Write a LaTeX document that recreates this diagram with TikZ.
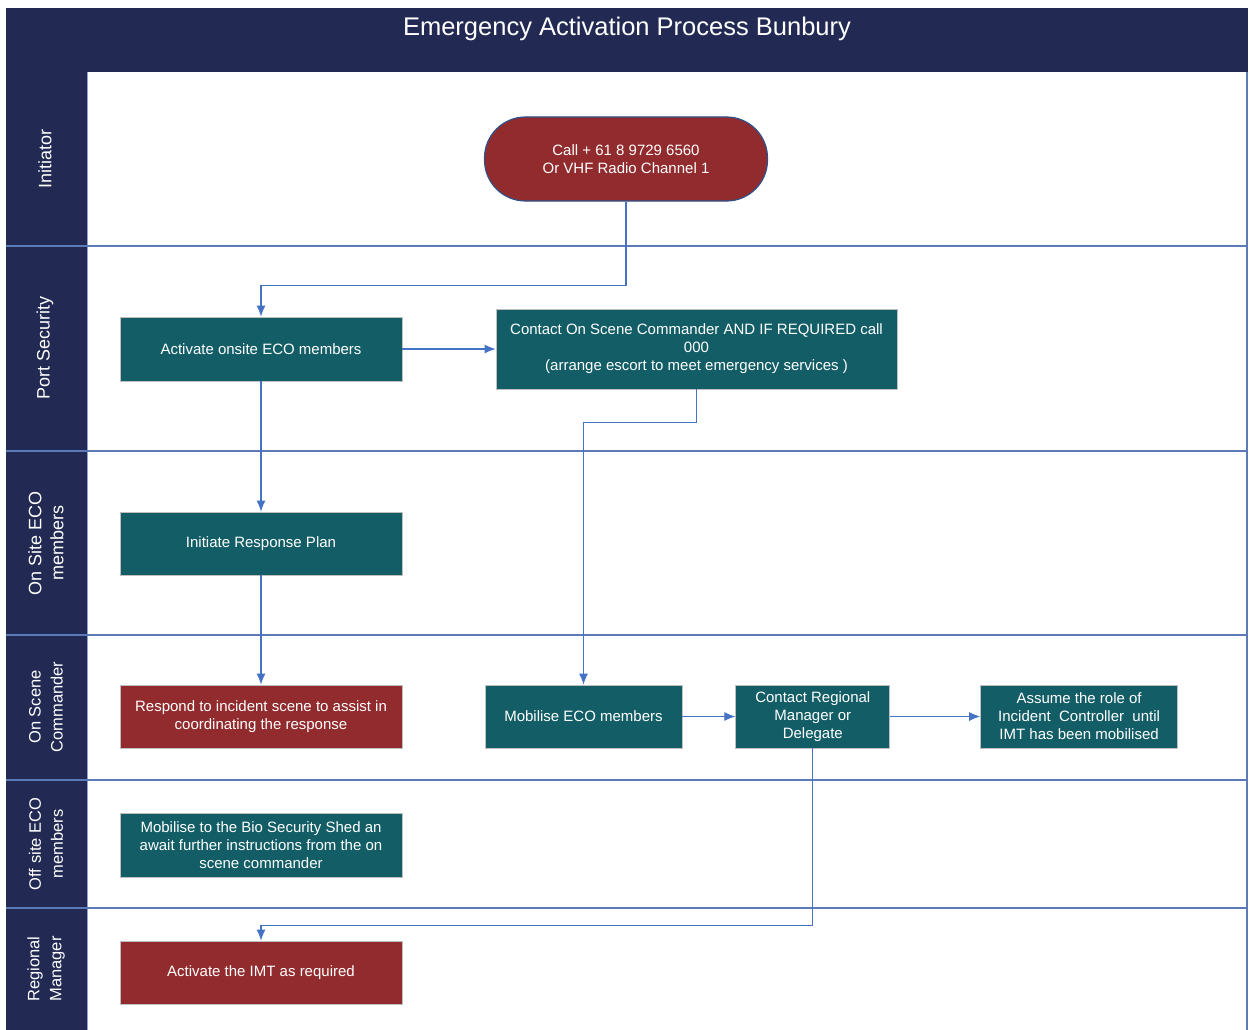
\documentclass[tikz,border=0pt]{standalone}
\usepackage{fontspec}
\setmainfont{Liberation Sans}
\usepackage{xcolor}
\usetikzlibrary{positioning,arrows.meta}

\definecolor{navy}{HTML}{222A53}
\definecolor{boxteal}{HTML}{135E66}
\definecolor{boxred}{HTML}{922B2E}
\definecolor{laneblue}{HTML}{5A7BB8}
\definecolor{flowblue}{HTML}{4472C4}

\begin{document}
\begin{tikzpicture}[
    x=1pt, y=-1pt,
    tealbox/.style={rectangle, draw=black!25, line width=0.8pt, fill=boxteal, text=white, align=center, inner sep=2pt, font=\fontsize{15}{18}\selectfont},
    redbox/.style={tealbox, fill=boxred},
    pill/.style={rectangle, draw=flowblue!70!black, line width=1.2pt, fill=boxred, text=white, align=center, rounded corners=41pt, minimum width=283pt, minimum height=84pt, font=\fontsize{15}{18}\selectfont},
    lanelabel/.style={text=white, rotate=90, align=center, font=\fontsize{18}{22}\selectfont},
    smalllabel/.style={lanelabel, font=\fontsize{16.5}{22}\selectfont},
    lane/.style={draw=laneblue, line width=1.5pt},
    arrow/.style={draw=flowblue, line width=1.1pt, -{Latex[length=11pt,width=9pt]}}
]
    \useasboundingbox (0,0) rectangle (1253,1030);
    % frame and lanes
    \fill[navy] (6,8) rectangle (1248,1030);
    \fill[white] (87,72) rectangle (1246,1030);
    \draw[laneblue!70, line width=0.8pt] (87,72) -- (87,1030);
    \draw[lane] (1247,72) -- (1247,1030);
    \foreach \y in {246,451,635,780,908}
        \draw[lane] (6,\y) -- (1247,\y);
    \node[text=white, font=\fontsize{25.5}{28}\selectfont] (title) at (627,29) {Emergency Activation Process Bunbury};

    \node[lanelabel] (laneinit) at (45,159) {Initiator};
    \node[lanelabel] (lanesec) at (45,348) {Port Security};
    \node[lanelabel] (laneonsite) at (46,543) {On Site ECO\\members};
    \node[smalllabel] (lanecmd) at (46,707) {On Scene\\Commander};
    \node[smalllabel] (laneoffsite) at (46,844) {Off site ECO\\members};
    \node[smalllabel] (lanermgr) at (46,969) {Regional\\Manager};

    % steps
    \node[pill] (call) at (626,159) {Call + 61 8 9729 6560\\Or VHF Radio Channel 1};
    \node[tealbox, minimum width=282pt, minimum height=64pt] (activate) at (261,349) {Activate onsite ECO members};
    \node[tealbox, minimum width=401pt, minimum height=80pt] (contactosc) at (696.5,349) {Contact On Scene Commander AND IF REQUIRED call\\000\\(arrange escort to meet emergency services )};
    \node[tealbox, minimum width=282pt, minimum height=63pt] (initiate) at (261,543.5) {Initiate Response Plan};
    \node[redbox, minimum width=282pt, minimum height=63pt] (respond) at (261,716.5) {Respond to incident scene to assist in\\coordinating the response};
    \node[tealbox, minimum width=197pt, minimum height=63pt] (mobilise) at (583.5,716.5) {Mobilise ECO members};
    \node[tealbox, minimum width=154pt, minimum height=63pt, right=53pt of mobilise] (contactrm) {Contact Regional\\Manager or\\Delegate};
    \node[tealbox, minimum width=197pt, minimum height=63pt, right=90pt of contactrm] (assume) {Assume the role of\\Incident~ Controller~ until\\IMT has been mobilised};
    \node[tealbox, minimum width=282pt, minimum height=64pt] (bioshed) at (261,845) {Mobilise to the Bio Security Shed an\\await further instructions from the on\\scene commander};
    \node[redbox, minimum width=282pt, minimum height=63pt] (imt) at (261,972.5) {Activate the IMT as required};

    % flow
    \draw [arrow] (call.south) -- ++(0,84) -| (activate.north);
    \path [arrow] (activate) -- (contactosc);
    \path [arrow] (activate) -- (initiate);
    \draw [arrow] (contactosc.south) -- ++(0,33) -| (mobilise.north);
    \path [arrow] (initiate) -- (respond);
    \path [arrow] (mobilise) -- (contactrm);
    \path [arrow] (contactrm) -- (assume);
    \draw [arrow] (contactrm.south) -- ++(0,177) -| (imt.north);
\end{tikzpicture}
\end{document}
